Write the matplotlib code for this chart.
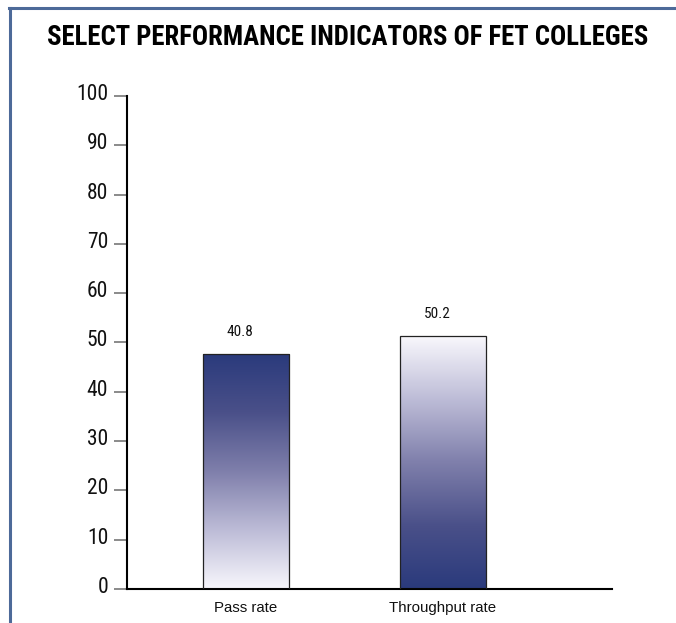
import numpy as np
import matplotlib
matplotlib.use("Agg")
import matplotlib.pyplot as plt
from matplotlib.colors import LinearSegmentedColormap
from matplotlib.lines import Line2D
from matplotlib.transforms import ScaledTranslation

categories = ["Pass rate", "Throughput rate"]
bar_heights = [47.7, 51.3]          # heights as drawn in the source
bar_labels = ["40.8", "50.2"]       # printed values
dark_on_top = [True, False]
yticks = [0, 10, 20, 30, 40, 50, 60, 70, 80, 90, 100]

NARROW = ["Roboto Condensed", "Archivo Narrow", "DejaVu Sans"]
ARIAL = ["Liberation Sans", "DejaVu Sans"]
cmap = LinearSegmentedColormap.from_list(
    "fet", ["#f8f7fc", "#bdbcd7", "#7f7fab", "#4a5089", "#2a3a7c"])

fig = plt.figure(figsize=(6.76, 6.23), dpi=100, facecolor="white")
ax = fig.add_axes([0.1879, 0.0546, 0.7174, 0.7913])

x = np.arange(len(categories))
width = 0.44
bars = ax.bar(x, bar_heights, width, color="none", edgecolor="#222222", lw=0.9, zorder=3)

grad = np.linspace(0, 1, 256).reshape(-1, 1)
for b, top_dark in zip(bars, dark_on_top):
    x0, w, h = b.get_x(), b.get_width(), b.get_height()
    img = grad if top_dark else grad[::-1]
    im = ax.imshow(img, cmap=cmap, aspect="auto", origin="lower",
                   extent=(x0, x0 + w, 0, h), zorder=2)
    im.set_clip_path(b)

for xi, h, lab in zip(x, bar_heights, bar_labels):
    ax.text(xi - 0.03, h + 3.0, lab, ha="center", va="bottom", fontsize=11,
            family=NARROW, color="#111111")

ax.set_xlim(-0.604, 1.858)
ax.set_ylim(0, 100)
ax.set_yticks(yticks)
ax.set_yticklabels([str(t) for t in yticks], family=NARROW, fontsize=15.5)
ax.tick_params(axis="y", direction="out", length=9.5, width=1.2, color="#777777",
               pad=4, labelcolor="#111111")
shift = ScaledTranslation(0, 4 / 100, fig.dpi_scale_trans)
for lab in ax.get_yticklabels():
    lab.set_transform(lab.get_transform() + shift)

ax.set_xticks(x)
ax.set_xticklabels(categories, family=ARIAL, fontsize=10.8)
ax.tick_params(axis="x", length=0, pad=9, labelcolor="#111111")
ax.spines[["top", "right"]].set_visible(False)
ax.spines["left"].set_linewidth(1.5)
ax.spines["bottom"].set_linewidth(1.5)
ax.set_facecolor("none")

fig.text(0.514, 0.94, "SELECT PERFORMANCE INDICATORS OF FET COLLEGES",
         ha="center", va="center", fontsize=19.3, fontweight="bold", family=NARROW)

# page frame (left and top edges)
frame = "#4d6a99"
fig.add_artist(Line2D([9.5 / 676, 9.5 / 676], [0, 1 - 8 / 623], color=frame, lw=2.2))
fig.add_artist(Line2D([8.5 / 676, 1], [1 - 8 / 623, 1 - 8 / 623], color=frame, lw=2.2))

fig.savefig("out.png", dpi=100, facecolor="white")
